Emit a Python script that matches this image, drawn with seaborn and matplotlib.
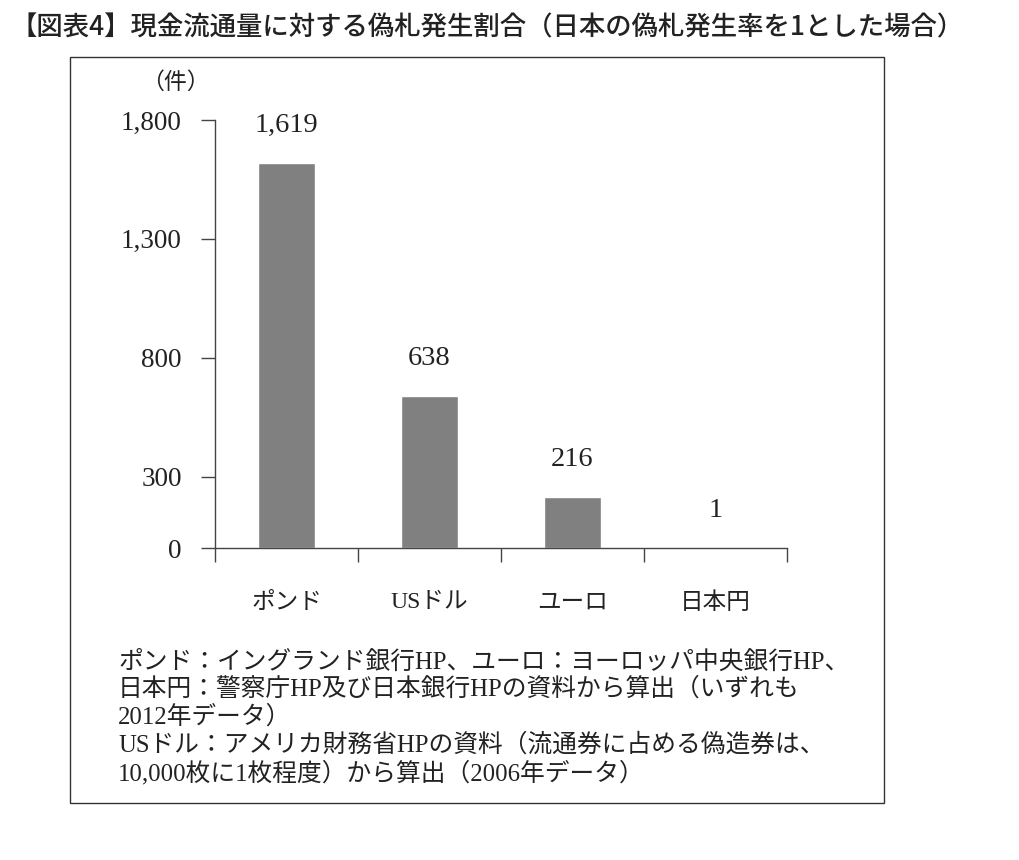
import seaborn as sns
import matplotlib
matplotlib.use("Agg")
from matplotlib import pyplot as plt
from matplotlib.patches import Rectangle

# data
currencies = ["ポンド", "USドル", "ユーロ", "日本円"]
counterfeit_ratio = [1619, 638, 216, 1]
y_ticks = [0, 300, 800, 1300, 1800]

title = "【図表4】現金流通量に対する偽札発生割合（日本の偽札発生率を1とした場合）"
unit_label = "（件）"
notes = [
    "ポンド：イングランド銀行HP、ユーロ：ヨーロッパ中央銀行HP、",
    "日本円：警察庁HP及び日本銀行HPの資料から算出（いずれも",
    "2012年データ）",
    "USドル：アメリカ財務省HPの資料（流通券に占める偽造券は、",
    "10,000枚に1枚程度）から算出（2006年データ）",
]

sns.set_style("white")
SERIF = ["Liberation Serif", "Noto Sans CJK JP", "DejaVu Sans"]
SANS = ["Noto Sans CJK JP", "DejaVu Sans"]
plt.rcParams["font.family"] = SERIF

W, H = 1020, 860
fig = plt.figure(figsize=(W / 100, H / 100), dpi=100)
fig.patch.set_facecolor("white")

def fx(px):
    return px / W

def fy(py):
    return 1 - py / H

# outer frame
fig.patches.append(Rectangle((fx(70), fy(803)), fx(884) - fx(70), fy(57) - fy(803),
                             transform=fig.transFigure, fill=False,
                             edgecolor="#333333", linewidth=1.0))

fig.text(fx(10), fy(28), title, family=SANS, fontsize=19, fontweight="medium",
         ha="left", va="center", color="#222222")

ax = fig.add_axes([fx(215), fy(548), fx(787) - fx(215), fy(120) - fy(548)])
sns.barplot(x=currencies, y=counterfeit_ratio, color="#808080", width=0.4,
            saturation=1, ax=ax)

ax.set_xlim(-0.5, len(currencies) - 0.5)
ax.set_ylim(0, 1800)
ax.set_yticks(y_ticks)
ax.set_yticklabels([f"{v:,}" for v in y_ticks])
ax.set_xlabel("")
ax.set_ylabel("")

for side in ["top", "right"]:
    ax.spines[side].set_visible(False)
for side in ["left", "bottom"]:
    ax.spines[side].set_color("#444444")
    ax.spines[side].set_linewidth(1.0)

ax.tick_params(axis="y", direction="out", length=10, width=1.0, color="#444444",
               labelsize=19.5, pad=14, labelcolor="#222222", left=True)
# category labels without marks, boundary marks as minor ticks
ax.set_xticks(range(len(currencies)))
ax.set_xticks([i - 0.5 for i in range(len(currencies) + 1)], minor=True)
ax.tick_params(axis="x", which="major", length=0, labelsize=17, pad=32,
               labelcolor="#222222")
ax.tick_params(axis="x", which="minor", direction="out", length=10, width=1.0,
               color="#444444", bottom=True)

for i, v in enumerate(counterfeit_ratio):
    ax.annotate(f"{v:,}", xy=(i, v), xytext=(0, 27), textcoords="offset points",
                ha="center", va="center", fontsize=20.5, color="#222222")

fig.text(fx(175), fy(83), unit_label, fontsize=16.5, ha="center", va="center",
         color="#222222")

note_y = [662, 689, 717, 745, 773]
for line, py in zip(notes, note_y):
    fig.text(fx(118), fy(py), line, fontsize=17.8, ha="left", va="center",
             color="#222222")

fig.savefig("out.png", dpi=100, facecolor="white")
